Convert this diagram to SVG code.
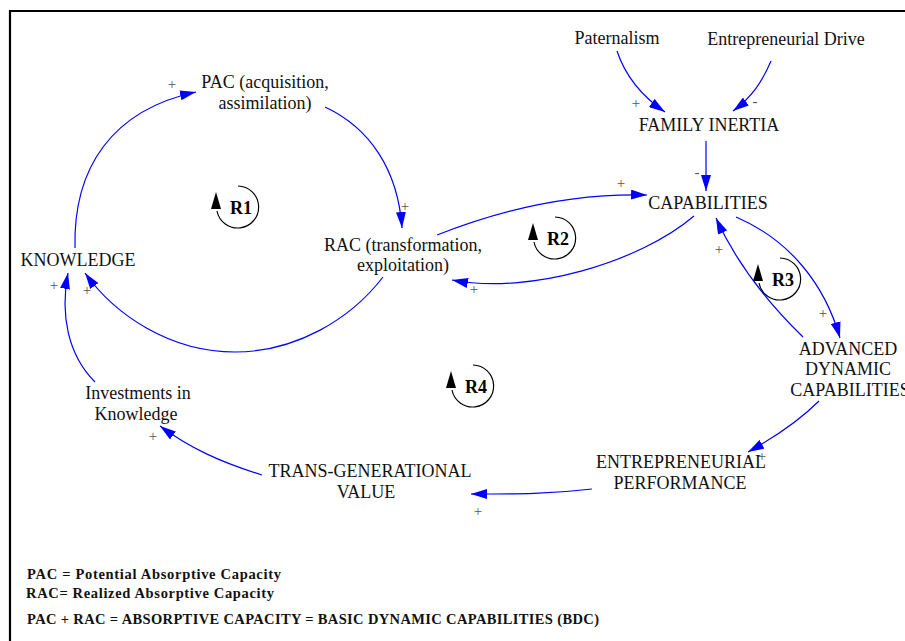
<svg xmlns="http://www.w3.org/2000/svg" width="905" height="641" viewBox="0 0 905 641">
<defs>
<style>
.n{font-family:"Liberation Serif","Times New Roman",serif;font-size:18px;fill:#111;text-anchor:middle}
.p{font-family:"Liberation Serif","Times New Roman",serif;font-size:15px;fill:#555;text-anchor:middle}
.c{fill:none;stroke:#0000ff;stroke-width:1.2;marker-end:url(#ah)}
.lg{font-family:"Liberation Serif","Times New Roman",serif;font-size:14.5px;font-weight:bold;fill:#111}
.lp{fill:none;stroke:#000;stroke-width:1.2}
.lt{font-family:"Liberation Serif","Times New Roman",serif;font-size:18px;font-weight:bold;fill:#000;text-anchor:middle}
</style>
<marker id="ah" markerUnits="userSpaceOnUse" markerWidth="16" markerHeight="10" refX="16" refY="5" orient="auto">
<path d="M0,0 L16,5 L0,10 z" fill="#0000ff"/>
</marker>
</defs>
<rect width="905" height="641" fill="#fff"/>
<path d="M10,641 L10,11 L905,11" fill="none" stroke="#000" stroke-width="2.2"/>

<g id="connectors">
<path class="c" d="M75,248 C73,168 112,110 196,92"/>
<path class="c" d="M325,107 C370,128 398,170 402,228"/>
<path class="c" d="M383,277 C350,320 295,352 235,352 C170,352 115,315 85,273"/>
<path class="c" d="M95,382 C68,355 60,315 68,273"/>
<path class="c" d="M262,475 C220,462 190,448 160,426"/>
<path class="c" d="M592,489 C550,494 520,494 471,494"/>
<path class="c" d="M819,401 C800,420 775,437 748,452"/>
<path class="c" d="M736,217 C790,240 825,285 840,338"/>
<path class="c" d="M803,337 C765,300 735,260 716,218"/>
<path class="c" d="M706,141 L706,191"/>
<path class="c" d="M617,51 C625,75 640,95 665,112"/>
<path class="c" d="M771,61 C762,82 752,97 733,111"/>
<path class="c" d="M437,235 C500,210 570,193 647,195"/>
<path class="c" d="M694,216 C640,262 530,295 452,280"/>
</g>

<g id="polarities">
<text class="p" x="172" y="89">+</text>
<text class="p" x="405" y="211">+</text>
<text class="p" x="54" y="290">+</text>
<text class="p" x="87" y="295">+</text>
<text class="p" x="153" y="441">+</text>
<text class="p" x="478" y="516">+</text>
<text class="p" x="762" y="461">+</text>
<text class="p" x="823" y="318">+</text>
<text class="p" x="719" y="254">+</text>
<text class="p" x="621" y="188">+</text>
<text class="p" x="474" y="294">+</text>
<text class="p" x="636" y="108">+</text>
<text class="p" x="755" y="106">-</text>
<text class="p" x="697" y="177">-</text>
</g>

<g id="pac"><text class="n" x="265" y="88">PAC (acquisition,</text><text class="n" x="265" y="109">assimilation)</text></g>
<g id="rac"><text class="n" x="403" y="251">RAC (transformation,</text><text class="n" x="403" y="271">exploitation)</text></g>
<g id="knowledge"><text class="n" x="78" y="266">KNOWLEDGE</text></g>
<g id="investments"><text class="n" x="138" y="399">Investments in</text><text class="n" x="136" y="420">Knowledge</text></g>
<g id="tgv"><text class="n" x="370" y="477">TRANS-GENERATIONAL</text><text class="n" x="366" y="498">VALUE</text></g>
<g id="ep"><text class="n" x="681" y="468">ENTREPRENEURIAL</text><text class="n" x="680" y="489">PERFORMANCE</text></g>
<g id="adc"><text class="n" x="848" y="355">ADVANCED</text><text class="n" x="848" y="375">DYNAMIC</text><text class="n" x="850" y="396">CAPABILITIES</text></g>
<g id="family-inertia"><text class="n" x="709" y="131">FAMILY INERTIA</text></g>
<g id="capabilities"><text class="n" x="708" y="209">CAPABILITIES</text></g>
<g id="paternalism"><text class="n" x="617" y="44">Paternalism</text></g>
<g id="entrepreneurial-drive"><text class="n" x="786" y="45">Entrepreneurial Drive</text></g>

<g id="loop-r1" transform="translate(238,207)">
<path class="lp" d="M0,-21 A21,21 0 1 1 -21,4"/>
<polygon points="-22,-15 -27,2 -17,2" fill="#000"/>
<text class="lt" x="3" y="7">R1</text>
</g>
<g id="loop-r2" transform="translate(555,238)">
<path class="lp" d="M0,-21 A21,21 0 1 1 -21,4"/>
<polygon points="-22,-15 -27,2 -17,2" fill="#000"/>
<text class="lt" x="3" y="7">R2</text>
</g>
<g id="loop-r3" transform="translate(780,279)">
<path class="lp" d="M0,-21 A21,21 0 1 1 -21,4"/>
<polygon points="-22,-15 -27,2 -17,2" fill="#000"/>
<text class="lt" x="3" y="7">R3</text>
</g>
<g id="loop-r4" transform="translate(473,386)">
<path class="lp" d="M0,-21 A21,21 0 1 1 -21,4"/>
<polygon points="-22,-15 -27,2 -17,2" fill="#000"/>
<text class="lt" x="3" y="7">R4</text>
</g>

<g id="legend">
<text class="lg" x="27" y="579" textLength="254">PAC = Potential Absorptive Capacity</text>
<text class="lg" x="26" y="598" textLength="248">RAC= Realized Absorptive Capacity</text>
<text class="lg" x="27" y="624" textLength="572">PAC + RAC = ABSORPTIVE CAPACITY = BASIC DYNAMIC CAPABILITIES (BDC)</text>
</g>
</svg>
